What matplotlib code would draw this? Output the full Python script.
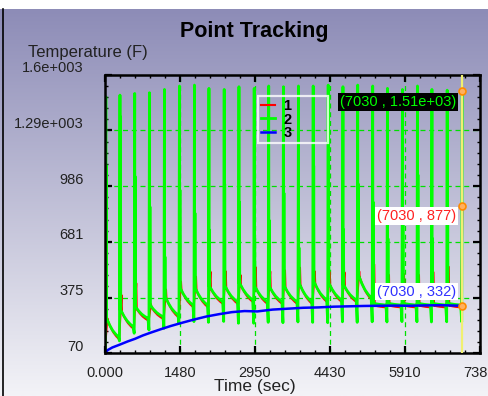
import numpy as np
import matplotlib
matplotlib.use("Agg")
import matplotlib.pyplot as plt
from matplotlib.lines import Line2D
from matplotlib.ticker import AutoMinorLocator
from matplotlib.transforms import ScaledTranslation

plt.rcParams['font.family'] = ['Liberation Sans', 'DejaVu Sans']

# spike times (sec) and values, one entry per heating cycle
spike_t = [22, 300, 590, 880, 1175, 1470, 1765, 2050, 2350, 2640, 2940, 3225, 3515,
           3810, 4100, 4395, 4685, 4975, 5270, 5560, 5855, 6150, 6435, 6735, 7030]
green_peak = [1479, 1488, 1497, 1501, 1519, 1538, 1543, 1525, 1519, 1534, 1525, 1538, 1534,
              1538, 1538, 1543, 1534, 1543, 1538, 1525, 1519, 1538, 1519, 1515, 1510]
green_mid = [1100, 1369, 1040, 875, 600, 967, 840, 747, 1000, 900, 700, 800, 950,
             650, 1100, 850, 750, 1000, 900, 700, 800, 1050, 700, 850, 900]
green_trough = [80, 138, 180, 198, 207, 236, 244, 240, 245, 235, 235, 240, 238,
                242, 240, 238, 243, 240, 243, 242, 244, 243, 242, 243, 243]
decay_start = [262, 308, 326, 335, 381, 428, 428, 436, 440, 454, 436, 436, 440,
               454, 463, 454, 445, 500, 345, 345, 345, 345, 345, 345]
decay_end = [160, 216, 262, 271, 280, 335, 335, 353, 353, 363, 353, 353, 353,
             353, 363, 363, 363, 375, 335, 335, 335, 335, 335, 335]
red_top = [262, 390, 455, 340, 420, 463, 490, 518, 520, 500, 543, 520, 525,
           540, 520, 515, 515, 520, 558, 500, 505, 500, 515, 545]
red_last = 877

# shape of one cooling curve (fraction of cycle, fraction of drop)
profile_t = [0.0, 0.25, 0.5, 0.75, 1.0]
profile_d = [0.0, 0.36, 0.64, 0.84, 1.0]

blue_t = [0, 60, 150, 300, 450, 600, 750, 900, 1100, 1300, 1500, 1750, 2000, 2250, 2500,
          2750, 3000, 3300, 3600, 3900, 4200, 4500, 4800, 5100, 5400, 5700, 6000, 6300,
          6600, 6900, 7030]
blue_v = [70, 88, 102, 118, 135, 150, 168, 183, 202, 220, 236, 255, 272, 285, 296,
          302, 300, 310, 315, 320, 322, 326, 328, 330, 331, 332, 331, 333, 334, 332, 332]

x_ticks = [0, 1476, 2952, 4428, 5904, 7380]
x_labels = ["0.000", "1480", "2950", "4430", "5910", "7380"]
y_ticks = [70, 376, 682, 988, 1294, 1600]
y_labels = ["70", "375", "681", "986", "1.29e+003", "1.6e+003"]

track_t = 7030
track_v = [1510, 877, 332]

# build the series
g_t, g_v = [0], [80]
r_t, r_v = [0], [75]
n = len(spike_t)
for k in range(n):
    t = spike_t[k]
    g_t += [t - 10, t]
    g_v += [green_trough[k], green_peak[k]]
    if k == n - 1:
        r_t += [t - 12, t]
        r_v += [decay_end[-1] - 8, red_last]
        break
    s, e = decay_start[k], decay_end[k]
    g_t += [t + 5, t + 10, t + 16]
    g_v += [s, green_mid[k], s]
    r_t += [t + 30, t + 40]
    r_v += [red_top[k], s - 14]
    span = spike_t[k + 1] - t - 46
    for f, d in zip(profile_t, profile_d):
        g_t.append(t + 16 + f * span)
        g_v.append(s - d * (s - e))
        r_t.append(t + 40 + f * (span - 10))
        r_v.append(s - d * (s - e) - 13)

fig = plt.figure(figsize=(4.89, 3.96), dpi=100)

# gradient background
top_c = np.array([141, 140, 183]) / 255
bot_c = np.array([243, 243, 247]) / 255
grad = np.linspace(0, 1, 256)[:, None, None] * (bot_c - top_c) + top_c
bg = fig.add_axes([0, 0, 1, 1 - 9 / 396], zorder=-1)
bg.imshow(grad, aspect='auto', extent=[0, 1, 0, 1])
bg.axis('off')
fig.add_artist(Line2D([2.5 / 489, 2.5 / 489], [0, 1 - 9 / 396], color='black', lw=1.2,
                      transform=fig.transFigure))

ax = fig.add_axes([104.7 / 489, (396 - 353.3) / 396, (480 - 104.7) / 489, (353.3 - 74.7) / 396])
ax.patch.set_alpha(0)
ax.set_xlim(0, 7380)
ax.set_ylim(70, 1600)

for x in x_ticks[1:-1]:
    ax.axvline(x, color='#00e000', lw=0.9, ls=(0, (4, 3)), zorder=1)
for y in y_ticks[1:-1]:
    ax.axhline(y, color='#00e000', lw=0.9, ls=(0, (4, 3)), zorder=1)

ax.plot(r_t, r_v, color='#ff0000', lw=1.5, zorder=2, label='1')
ax.plot(g_t, g_v, color='#00ff00', lw=2.0, zorder=2.1, label='2')
ax.plot(blue_t, blue_v, color='#0000ff', lw=1.8, zorder=2.2, label='3')

ax.axvline(track_t, color='#f0f070', lw=1.6, zorder=3)
ax.plot([track_t] * 3, track_v, 'o', ms=5, mfc='#ffb060', mec='#ff8a00', mew=1.2, zorder=4)

ann = dict(ha='right', va='center', fontsize=10.5, zorder=5)
ax.text(6915, 1450, "(7030 , 1.51e+03)", color='#00ff00',
        bbox=dict(boxstyle='square,pad=0.12', fc='black', ec='none'), **ann)
ax.text(6915, 824, "(7030 , 877)", color='#ff2020',
        bbox=dict(boxstyle='square,pad=0.12', fc='white', ec='none'), **ann)
ax.text(6915, 409, "(7030 , 332)", color='#3030ff',
        bbox=dict(boxstyle='square,pad=0.12', fc='white', ec='none'), **ann)

ax.set_xticks(x_ticks)
ax.set_xticklabels(x_labels)
ax.set_yticks(y_ticks)
ax.set_yticklabels(y_labels)
ax.xaxis.set_minor_locator(AutoMinorLocator(5))
ax.yaxis.set_minor_locator(AutoMinorLocator(5))
ax.tick_params(which='both', direction='in', top=True, right=True, colors='black',
               labelcolor='#222222', labelsize=10.5)
ax.tick_params(which='major', length=5, width=1.6)
ax.tick_params(which='minor', length=2.5, width=1)
ax.tick_params(axis='y', pad=15)
ax.tick_params(axis='x', pad=9)
for lab in ax.get_yticklabels():
    lab.set_transform(lab.get_transform() + ScaledTranslation(0, 0.08, fig.dpi_scale_trans))
for sp in ax.spines.values():
    sp.set_linewidth(1.8)

leg = ax.legend(loc='upper left', bbox_to_anchor=(0.408, 0.925, 0.186, 0.0), mode='expand',
                fancybox=False, facecolor='none', edgecolor='white',
                prop={'weight': 'bold', 'size': 10.5}, handlelength=0.9, handletextpad=0.6,
                labelspacing=-0.05, borderpad=0.25, borderaxespad=0)
leg.get_frame().set_linewidth(1.6)

fig.text(254 / 489, 1 - 32 / 396, "Point Tracking", ha='center', va='center',
         fontsize=15.5, fontweight='bold', color='black')
fig.text(28 / 489, 1 - 52 / 396, "Temperature (F)", ha='left', va='center',
         fontsize=12, color='#222222')
fig.text(255 / 489, 1 - 386 / 396, "Time (sec)", ha='center', va='center',
         fontsize=12.5, color='#222222')

fig.savefig("out.png", dpi=100)
